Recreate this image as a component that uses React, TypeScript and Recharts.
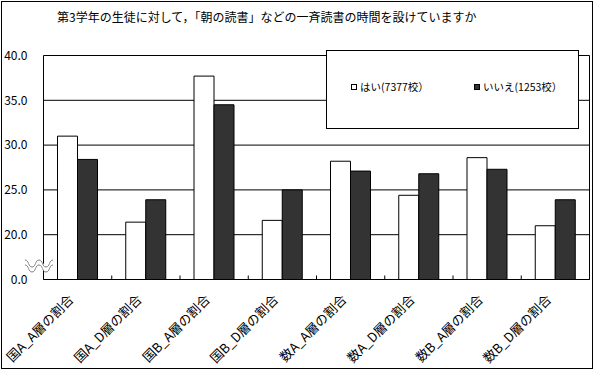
import React from "react"
import { Bar, BarChart, CartesianGrid, Legend, ReferenceLine, XAxis, YAxis } from "recharts"

const title = "第3学年の生徒に対して，「朝の読書」などの一斉読書の時間を設けていますか"
const categories = [
  "国A_A層の割合",
  "国A_D層の割合",
  "国B_A層の割合",
  "国B_D層の割合",
  "数A_A層の割合",
  "数A_D層の割合",
  "数B_A層の割合",
  "数B_D層の割合",
]
const seriesNames = ["はい(7377校）", "いいえ(1253校）"]
const haiValues = [31.0, 21.4, 37.7, 21.6, 28.2, 24.4, 28.6, 21.0]
const iieValues = [28.4, 23.9, 34.5, 25.0, 27.1, 26.8, 27.3, 23.9]
const yTicks = [0, 20, 25, 30, 35, 40]

const FONT = "'Noto Sans CJK JP', 'Noto Sans', sans-serif"

// broken value axis: 0-20 is squeezed into one 5-point step
const BREAK = 20
const squash = (v: number) => (v <= BREAK ? (v / BREAK) * 5 : v - 15)
const unsquash = (v: number) => (v <= 5 ? (v / 5) * BREAK : v + 15)

const data = categories.map((name, i) => ({
  name,
  hai: squash(haiValues[i]),
  iie: squash(iieValues[i]),
}))

// rotated label, plus the little upward mark on the right edge of the category band
function CategoryTick({ x, y, payload, index, visibleTicksCount }: any) {
  const tx = x - 7
  const ty = y + 17
  const edge = x + (payload.offset || 0)
  return (
    <g>
      {index < visibleTicksCount - 1 && (
        <line x1={edge} x2={edge} y1={y} y2={y - 4} stroke="#000" />
      )}
      <text
        x={tx}
        y={ty}
        transform={`rotate(-45, ${tx}, ${ty})`}
        textAnchor="end"
        dominantBaseline="central"
        fontSize={13}
        fontFamily={FONT}
        fill="#000"
      >
        {payload.value}
      </text>
    </g>
  )
}

function LegendBox({ payload }: any) {
  const items = [...(payload || [])].sort(
    (a: any, b: any) => seriesNames.indexOf(a.value) - seriesNames.indexOf(b.value)
  )
  return (
    <div
      style={{
        boxSizing: "border-box",
        width: "100%",
        height: "100%",
        border: "1px solid #000",
        background: "#fff",
        position: "relative",
        fontFamily: FONT,
        fontSize: 10.5,
      }}
    >
      {items.map((entry: any, i: number) => (
        <div
          key={entry.value}
          style={{
            position: "absolute",
            left: i === 0 ? 24 : 147,
            top: 29,
            display: "flex",
            alignItems: "center",
            whiteSpace: "nowrap",
            lineHeight: "14px",
          }}
        >
          <span
            style={{
              display: "inline-block",
              boxSizing: "border-box",
              width: 6,
              height: 6,
              border: "1px solid #000",
              background: entry.color,
              marginRight: 3,
            }}
          />
          {entry.value}
        </div>
      ))}
    </div>
  )
}

function wave(y0: number) {
  return `M25 ${y0} C29 ${y0} 28 ${y0 + 7} 32 ${y0 + 7} C36 ${y0 + 7} 35 ${y0} 39 ${y0} C43 ${y0} 42 ${y0 + 7} 46 ${y0 + 7} C50 ${y0 + 7} 49 ${y0} 53 ${y0}`
}

export default function App() {
  return (
    <div
      style={{
        position: "absolute",
        left: 0,
        top: 0,
        width: 594,
        height: 371,
        background: "#fff",
        fontFamily: FONT,
      }}
    >
      <BarChart
        width={594}
        height={371}
        data={data}
        margin={{ top: 55.5, right: 4.5, bottom: 0, left: 0 }}
        barSize={20}
        barGap={0}
      >
        <CartesianGrid vertical={false} stroke="#000" />
        <XAxis
          dataKey="name"
          height={91.5}
          interval={0}
          tickLine={false}
          tickSize={0}
          tickMargin={0}
          axisLine={{ stroke: "#000" }}
          tick={<CategoryTick />}
        />
        <YAxis
          type="number"
          width={43.5}
          domain={[squash(0), squash(40)]}
          ticks={yTicks.map(squash)}
          tickFormatter={(v: number) => unsquash(v).toFixed(1)}
          tickLine={false}
          tickSize={0}
          tickMargin={16}
          axisLine={{ stroke: "#000" }}
          tick={{ fontSize: 12, fill: "#000", fontFamily: FONT }}
        />
        <ReferenceLine x={categories[categories.length - 1]} position="end" stroke="#000" />
        <Bar dataKey="hai" name={seriesNames[0]} fill="#ffffff" stroke="#000" isAnimationActive={false} />
        <Bar dataKey="iie" name={seriesNames[1]} fill="#333333" stroke="#000" isAnimationActive={false} />
        <Legend
          layout="horizontal"
          verticalAlign="middle"
          align="center"
          wrapperStyle={{ position: "absolute", left: 326, top: 50, width: 253, height: 79 }}
          content={<LegendBox />}
        />
      </BarChart>
      <div
        style={{
          position: "absolute",
          left: 57,
          top: 9,
          fontSize: 12,
          lineHeight: "15px",
          whiteSpace: "nowrap",
          color: "#000",
        }}
      >
        {title}
      </div>
      <svg
        width={594}
        height={371}
        style={{ position: "absolute", left: 0, top: 0, pointerEvents: "none" }}
      >
        <path d={wave(262.5)} fill="none" stroke="#fff" strokeWidth={4} />
        <path d={wave(260)} fill="none" stroke="#808080" strokeWidth={1} />
        <path d={wave(265)} fill="none" stroke="#808080" strokeWidth={1} />
        <rect x={1.5} y={1.5} width={591} height={367} fill="none" stroke="#000" />
      </svg>
    </div>
  )
}
